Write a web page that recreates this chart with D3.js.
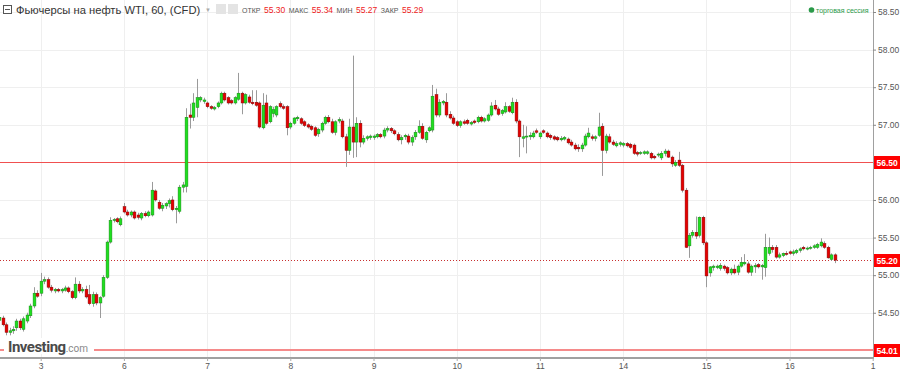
<!DOCTYPE html>
<html>
<head>
<meta charset="utf-8">
<script src="https://cdn.jsdelivr.net/npm/d3@7"></script>
<style>
body{margin:0;background:#fff}
svg{display:block;font-family:"Liberation Sans",Arial,sans-serif}
</style>
</head>
<body>
<svg id="chart" width="900" height="371"></svg>
<script>
// hourly candles [open, high, low, close], one array per trading day
const day02 = [[54.40,54.46,54.36,54.44],[54.43,54.46,54.32,54.34],[54.34,54.37,54.20,54.24],[54.24,54.30,54.20,54.26],
  [54.26,54.32,54.22,54.28],[54.30,54.42,54.26,54.39],[54.39,54.42,54.27,54.30],[54.28,54.45,54.25,54.42],
  [54.39,54.50,54.36,54.47],[54.46,54.62,54.43,54.59],[54.59,54.84,54.56,54.76],[54.76,54.80,54.70,54.72]]
const day03 = [[54.76,55.03,54.72,54.92],[54.92,54.98,54.88,54.94],[54.94,54.97,54.82,54.84],[54.84,54.87,54.77,54.80],
  [54.79,54.83,54.76,54.81],[54.81,54.83,54.77,54.79],[54.79,54.83,54.76,54.81],[54.80,54.86,54.78,54.83],
  [54.83,54.85,54.76,54.78],[54.78,54.80,54.68,54.70],[54.70,54.97,54.68,54.88],[54.88,54.92,54.76,54.79],
  [54.79,54.84,54.76,54.81],[54.81,54.86,54.69,54.71],[54.74,54.87,54.60,54.62],[54.62,54.78,54.58,54.74],
  [54.74,54.77,54.60,54.63],[54.63,54.72,54.43,54.70],[54.72,55.00,54.70,54.97],[54.97,55.46,54.95,55.44],
  [55.44,55.77,55.42,55.73],[55.73,55.76,55.70,55.74],[55.75,55.77,55.69,55.71],[55.67,55.78,55.65,55.75]]
const day06 = [[55.91,55.96,55.82,55.84],[55.84,55.87,55.78,55.80],[55.80,55.86,55.77,55.84],[55.84,55.86,55.74,55.76],
  [55.80,55.83,55.74,55.77],[55.76,55.84,55.73,55.82],[55.82,55.85,55.77,55.79],[55.79,55.86,55.77,55.84],
  [55.80,56.24,55.78,56.13],[56.12,56.14,55.98,56.00],[55.97,56.00,55.87,55.89],[55.89,55.96,55.85,55.93],
  [55.92,55.97,55.88,55.95],[55.95,56.02,55.90,55.99],[56.00,56.05,55.85,55.87],[55.87,55.92,55.69,55.89],
  [55.85,56.20,55.82,56.17],[56.17,56.24,56.10,56.20],[56.18,57.22,56.10,57.10],[57.13,57.28,56.95,57.10],
  [57.10,57.42,57.05,57.29],[57.23,57.61,57.10,57.36],[57.33,57.38,57.30,57.36],[57.31,57.36,57.28,57.33]]
const day07 = [[57.29,57.31,57.22,57.24],[57.24,57.26,57.20,57.22],[57.21,57.25,57.19,57.23],[57.24,57.31,57.22,57.29],
  [57.29,57.44,57.27,57.42],[57.42,57.44,57.31,57.33],[57.36,57.38,57.27,57.29],[57.32,57.34,57.27,57.29],
  [57.29,57.38,57.27,57.36],[57.34,57.69,57.32,57.42],[57.42,57.44,57.14,57.29],[57.29,57.42,57.27,57.40],
  [57.37,57.40,57.28,57.30],[57.30,57.46,57.26,57.28],[57.30,57.46,57.24,57.26],[57.29,57.31,56.95,56.97],
  [56.96,57.42,56.94,57.26],[57.29,57.40,57.00,57.02],[57.04,57.26,57.02,57.24],[57.15,57.24,57.10,57.20],
  [57.13,57.26,57.10,57.24],[57.28,57.31,57.22,57.24],[57.24,57.27,57.20,57.22],[57.24,57.26,56.86,56.96]]
const day08 = [[56.97,57.04,56.94,57.02],[57.02,57.10,57.00,57.09],[57.08,57.12,57.05,57.10],[57.08,57.10,57.00,57.02],
  [57.04,57.06,56.97,56.99],[57.00,57.02,56.95,56.97],[56.98,57.00,56.92,56.94],[56.96,56.98,56.84,56.86],
  [56.88,56.96,56.84,56.94],[56.93,57.04,56.90,57.02],[57.02,57.12,57.00,57.10],[57.10,57.13,57.02,57.04],
  [57.04,57.08,56.88,56.90],[56.90,57.06,56.86,57.04],[57.05,57.10,57.02,57.07],[57.05,57.08,56.82,56.84],
  [56.84,56.88,56.44,56.66],[56.66,57.08,56.60,56.97],[56.97,57.92,56.56,56.77],[56.77,57.10,56.57,57.02],
  [57.02,57.06,56.70,56.77],[56.77,56.86,56.74,56.82],[56.82,56.86,56.79,56.84],[56.83,56.87,56.80,56.85]]
const day09 = [[56.83,56.87,56.80,56.85],[56.84,56.89,56.82,56.87],[56.87,56.89,56.82,56.84],[56.85,56.96,56.82,56.93],
  [56.93,56.98,56.90,56.95],[56.95,56.97,56.89,56.92],[56.92,56.94,56.86,56.88],[56.87,56.90,56.78,56.80],
  [56.80,56.86,56.74,56.83],[56.84,56.88,56.80,56.86],[56.85,56.88,56.74,56.77],[56.77,56.86,56.72,56.83],
  [56.84,56.93,56.80,56.90],[56.90,57.06,56.88,56.98],[56.98,57.02,56.80,56.82],[56.80,56.92,56.76,56.90],
  [56.92,56.98,56.90,56.96],[56.93,57.53,56.90,57.38],[57.40,57.48,57.10,57.13],[57.13,57.34,57.10,57.30],
  [57.29,57.33,57.26,57.31],[57.30,57.42,57.10,57.13],[57.14,57.18,57.07,57.09],[57.09,57.12,57.00,57.02]]
const day10 = [[57.04,57.06,56.97,56.99],[56.99,57.06,56.96,57.04],[57.04,57.07,57.00,57.02],[57.06,57.08,57.00,57.02],
  [57.01,57.05,56.99,57.03],[57.05,57.07,57.01,57.03],[57.04,57.12,57.02,57.10],[57.10,57.12,57.03,57.05],
  [57.05,57.10,57.03,57.08],[57.06,57.15,57.04,57.13],[57.13,57.30,57.11,57.25],[57.26,57.33,57.19,57.21],
  [57.21,57.24,57.12,57.14],[57.15,57.21,57.12,57.19],[57.17,57.30,57.15,57.24],[57.24,57.26,57.16,57.18],
  [57.16,57.36,57.14,57.30],[57.30,57.34,57.02,57.05],[57.05,57.07,56.57,56.84],[56.82,57.00,56.70,56.84],
  [56.84,56.98,56.62,56.85],[56.84,56.90,56.80,56.86],[56.84,56.92,56.82,56.89],[56.92,56.95,56.88,56.90]]
const day11 = [[56.84,56.91,56.81,56.89],[56.92,56.94,56.88,56.90],[56.89,56.91,56.82,56.84],[56.86,56.88,56.80,56.83],
  [56.84,56.86,56.79,56.81],[56.83,56.85,56.78,56.80],[56.80,56.85,56.78,56.82],[56.81,56.85,56.79,56.83],
  [56.81,56.83,56.74,56.76],[56.77,56.80,56.71,56.73],[56.73,56.76,56.66,56.68],[56.70,56.74,56.64,56.68],
  [56.68,56.76,56.64,56.73],[56.73,56.88,56.71,56.85],[56.84,56.96,56.82,56.89],[56.84,56.87,56.79,56.82],
  [56.82,56.86,56.78,56.84],[56.86,57.16,56.84,56.97],[56.98,57.02,56.32,56.66],[56.66,56.88,56.62,56.85],
  [56.84,56.88,56.75,56.77],[56.77,56.80,56.72,56.74],[56.72,56.78,56.70,56.75],[56.74,56.78,56.71,56.76]]
const day14 = [[56.73,56.77,56.70,56.75],[56.75,56.77,56.70,56.72],[56.74,56.76,56.68,56.70],[56.73,56.75,56.60,56.62],
  [56.63,56.65,56.58,56.61],[56.62,56.65,56.60,56.63],[56.62,56.66,56.60,56.64],[56.62,56.66,56.60,56.64],
  [56.62,56.64,56.54,56.56],[56.58,56.60,56.54,56.56],[56.60,56.63,56.57,56.61],[56.56,56.65,56.53,56.62],
  [56.62,56.68,56.58,56.65],[56.65,56.67,56.56,56.57],[56.57,56.59,56.44,56.48],[56.46,56.53,56.44,56.50],
  [56.53,56.64,56.44,56.46],[56.46,56.48,56.10,56.13],[56.13,56.16,55.36,55.37],[55.39,55.56,55.23,55.53],
  [55.53,55.60,55.50,55.57],[55.57,55.78,55.48,55.52],[55.53,55.78,55.50,55.77],[55.77,55.79,55.40,55.43]]
const day15 = [[55.43,55.45,54.84,54.99],[55.03,55.12,54.98,55.11],[55.10,55.14,55.06,55.12],[55.10,55.14,55.08,55.12],
  [55.09,55.16,55.06,55.13],[55.12,55.14,55.06,55.09],[55.10,55.12,55.01,55.03],[55.03,55.10,55.00,55.08],
  [55.08,55.14,55.01,55.03],[55.04,55.14,55.00,55.12],[55.12,55.24,55.10,55.17],[55.15,55.28,55.13,55.17],
  [55.15,55.18,55.02,55.04],[55.04,55.14,54.99,55.12],[55.11,55.16,55.03,55.13],[55.14,55.16,55.09,55.11],
  [55.11,55.15,54.94,55.13],[55.10,55.55,54.98,55.37],[55.29,55.50,55.26,55.37],[55.37,55.40,55.30,55.34],
  [55.37,55.40,55.22,55.24],[55.24,55.30,55.22,55.27],[55.26,55.30,55.24,55.29],[55.29,55.32,55.26,55.28]]
const day16 = [[55.31,55.33,55.27,55.29],[55.29,55.34,55.26,55.31],[55.30,55.35,55.28,55.33],[55.33,55.37,55.30,55.35],
  [55.37,55.39,55.33,55.35],[55.35,55.38,55.33,55.36],[55.36,55.39,55.34,55.37],[55.37,55.41,55.35,55.39],
  [55.37,55.43,55.35,55.41],[55.39,55.49,55.37,55.44],[55.42,55.45,55.35,55.37],[55.37,55.39,55.22,55.23],
  [55.21,55.29,55.19,55.27],[55.27,55.29,55.16,55.20]]

const dayLabels = ["3","6","7","8","9","10","11","14","15","16","1"]
const yTicks = [54.5,55,55.5,56,56.5,57,57.5,58,58.5]
const levelLines = [56.50, 54.01]
const lastPrice = 55.20
const hdrNames = ["ОТКР","МАКС","МИН","ЗАКР"]
const hdrValues = [55.30,55.34,55.27,55.29]

const firstDayStart = day02.length // index of first candle of day "3"
const perDay = 24

let candles = [].concat(day02,day03,day06,day07,day08,day09,day10,day11,day14,day15,day16)
  .map(function(d,i){ return {i:i, o:d[0], h:d[1], l:d[2], c:d[3]} })

const plotRight = 873, plotBottom = 358
let svg = d3.select("#chart")

let x = d3.scaleLinear()//candle index -> px
  .domain([firstDayStart, firstDayStart + perDay*(dayLabels.length-1)])
  .range([40.7, 872.7])
let y = d3.scaleLinear()
  .domain([54.01, 58.5])
  .range([349.6, 12])
let fmt = d3.format(".2f")

svg.append("defs").append("clipPath").attr("id","plot")
  .append("rect").attr("width",plotRight).attr("height",plotBottom)

let plot = svg.append("g").attr("clip-path","url(#plot)")

// grid
let dayTicks = dayLabels.map(function(d,k){ return firstDayStart + k*perDay })
plot.selectAll(".hg").data(yTicks).enter().append("line")
  .attr("x1",0).attr("x2",plotRight)
  .attr("y1",d=>Math.round(y(d))+0.5).attr("y2",d=>Math.round(y(d))+0.5)
  .attr("stroke","#efefef")
plot.selectAll(".vg").data(dayTicks).enter().append("line")
  .attr("x1",d=>Math.round(x(d))+0.5).attr("x2",d=>Math.round(x(d))+0.5)
  .attr("y1",0).attr("y2",plotBottom)
  .attr("stroke","#efefef")

// level lines
plot.append("line").attr("x1",0).attr("x2",plotRight)
  .attr("y1",Math.round(y(levelLines[0]))+0.5).attr("y2",Math.round(y(levelLines[0]))+0.5)
  .attr("stroke","#f05050").attr("stroke-width",1)
plot.append("line").attr("x1",0).attr("x2",plotRight)
  .attr("y1",Math.round(y(levelLines[1]))).attr("y2",Math.round(y(levelLines[1])))
  .attr("stroke","#f58a8a").attr("stroke-width",2)
plot.append("line").attr("x1",0).attr("x2",plotRight)
  .attr("y1",Math.round(y(lastPrice))+0.5).attr("y2",Math.round(y(lastPrice))+0.5)
  .attr("stroke","#c83030").attr("stroke-dasharray","1,2")

// candles
let bw = 2.8
let cg = plot.selectAll(".candle").data(candles).enter().append("g")
cg.append("line")//wick
  .attr("x1",d=>Math.round(x(d.i))+0.5).attr("x2",d=>Math.round(x(d.i))+0.5)
  .attr("y1",d=>y(d.h)).attr("y2",d=>y(d.l))
  .attr("stroke","#9a9a9a").attr("stroke-width",1)
cg.append("rect")//body
  .attr("x",d=>Math.round(x(d.i))+0.5-bw/2)
  .attr("y",d=>y(Math.max(d.o,d.c)))
  .attr("width",bw)
  .attr("height",d=>Math.max(1,Math.abs(y(d.o)-y(d.c))))
  .attr("fill",d=>d.c>=d.o ? "#1ee01e" : "#e60000")
  .attr("stroke",d=>d.c>=d.o ? "#168816" : "#880000")
  .attr("stroke-width",0.5)

// axes
let yAxis = d3.axisRight(y).tickValues(yTicks).tickFormat(fmt).tickSize(3).tickPadding(2)
let ya = svg.append("g").attr("transform","translate("+plotRight+",0)").call(yAxis)
ya.select(".domain").attr("stroke","#a0a0a0").attr("d","M0.5,0V"+plotBottom)
ya.selectAll(".tick line").attr("stroke","#888")
ya.selectAll("text").attr("fill","#555").style("font-size","8.5px")

let xAxis = d3.axisBottom(x).tickValues(dayTicks).tickFormat((d,k)=>dayLabels[k]).tickSize(3).tickPadding(2)
let xa = svg.append("g").attr("transform","translate(0,"+plotBottom+")").call(xAxis)
xa.select(".domain").attr("stroke","#a0a0a0").attr("stroke-width",2).attr("d","M0,0H"+(plotRight+1))
xa.selectAll(".tick line").attr("stroke","#aaa")
xa.selectAll("text").attr("fill","#555").style("font-size","8.5px")

// price boxes on the axis
let boxes = [levelLines[0], lastPrice, levelLines[1]]
let bx = svg.selectAll(".pbox").data(boxes).enter().append("g")
  .attr("transform",d=>"translate("+(plotRight+1)+","+Math.round(y(d))+")")
bx.append("rect").attr("x",0).attr("y",-6).attr("width",26).attr("height",13).attr("fill","#ff0000")
bx.append("text").attr("x",2.5).attr("y",3.5).attr("fill","#fff")
  .style("font-size","8.5px").style("font-weight","bold").text(d=>fmt(d))

// header
let hd = svg.append("g")
hd.append("rect").attr("x",3.5).attr("y",5.5).attr("width",8).attr("height",8)
  .attr("fill","#fff").attr("stroke","#555")
hd.append("line").attr("x1",5).attr("x2",10).attr("y1",9.5).attr("y2",9.5).attr("stroke","#555")
hd.append("text").attr("x",16).attr("y",14).attr("fill","#333").style("font-size","11.2px")
  .text("Фьючерсы на нефть WTI, 60, (CFD)")
hd.append("text").attr("x",205).attr("y",12).attr("fill","#aaa").style("font-size","6px").text("▼")
hd.append("rect").attr("x",216).attr("y",4).attr("width",10).attr("height",10).attr("fill","#e4e4e4")
hd.append("rect").attr("x",228).attr("y",4).attr("width",10).attr("height",10).attr("fill","#e4e4e4")
let ohlc = hd.append("text").attr("x",242).attr("y",13)
hdrNames.forEach(function(n,k){
  ohlc.append("tspan").attr("dx",k ? 3.5 : 0).attr("fill","#555").style("font-size","7px").text(n)
  ohlc.append("tspan").attr("dx",3.5).attr("fill","#ee2222").style("font-size","8.5px").text(fmt(hdrValues[k]))
})
svg.append("circle").attr("cx",811.5).attr("cy",10).attr("r",2.8).attr("fill","#2a9a4a")
svg.append("text").attr("x",816).attr("y",12.5).attr("fill","#2a9a4a").style("font-size","7px").text("торговая сессия")

// logo
let lg = svg.append("g")
lg.append("rect").attr("x",4).attr("y",338).attr("width",90).attr("height",16).attr("fill","#fff")
let lt = lg.append("text").attr("x",8).attr("y",352).style("font-family","Roboto, sans-serif")
lt.append("tspan").attr("fill","#4a4a4a").style("font-size","15px").style("font-weight","bold")
  .style("letter-spacing","-0.5px").text("Investing")
lt.append("tspan").attr("fill","#8a8a8a").style("font-size","10px").text(".com")
</script>
</body>
</html>
